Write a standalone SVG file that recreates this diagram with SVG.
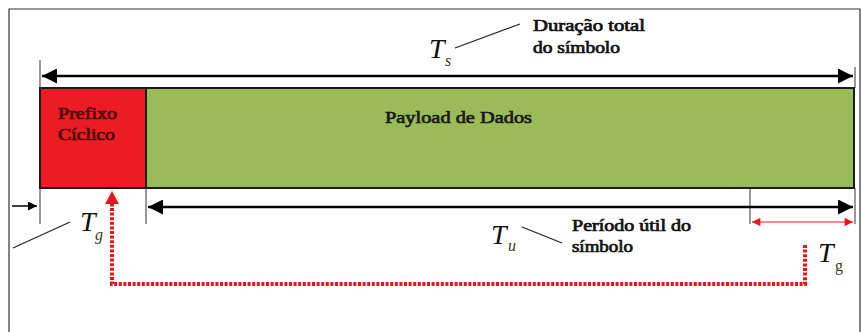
<svg xmlns="http://www.w3.org/2000/svg" width="862" height="332" viewBox="0 0 862 332">
<defs>
<style>
.lbl{font-family:"Liberation Serif","Times New Roman",serif;font-size:16px;fill:#111;stroke:#111;stroke-width:0.7}
.blk{font-family:"Liberation Serif","Times New Roman",serif;font-size:17px;fill:#1a1a1a;stroke:#1a1a1a;stroke-width:0.7}
.pre{font-family:"Liberation Serif","Times New Roman",serif;font-size:16px;fill:#4a0a0a;stroke:#4a0a0a;stroke-width:0.7}
.sym{font-family:"Liberation Serif","Times New Roman",serif;font-style:italic;font-size:28px;fill:#111}
.sub{font-family:"Liberation Serif","Times New Roman",serif;font-style:italic;font-size:16px;fill:#3a3a1a}
.dim{stroke:#000;stroke-width:2.5;fill:none}
.tick{stroke:#333;stroke-width:1;fill:none}
.lead{stroke:#222;stroke-width:1.2;fill:none}
</style>
<marker id="ah" viewBox="0 0 10 10" refX="10" refY="5" markerWidth="8" markerHeight="6" markerUnits="strokeWidth" orient="auto-start-reverse"><path d="M0,0 L10,5 L0,10 z" fill="#000"/></marker>
<marker id="ahs" viewBox="0 0 10 10" refX="10" refY="5" markerWidth="8" markerHeight="6" markerUnits="strokeWidth" orient="auto"><path d="M0,0 L10,5 L0,10 z" fill="#000"/></marker>
<marker id="ahr" viewBox="0 0 10 10" refX="10" refY="5" markerWidth="13" markerHeight="7" markerUnits="strokeWidth" orient="auto-start-reverse"><path d="M0,0 L10,5 L0,10 z" fill="#e8161c"/></marker>
</defs>
<rect x="0" y="0" width="862" height="332" fill="#fff"/>
<path d="M9,332 L9,9 L860,9 L860,332" fill="none" stroke="#333" stroke-width="1.2"/>

<g id="prefixo">
<rect x="40" y="88" width="106" height="100" fill="#ed1c24" stroke="#1a1a1a" stroke-width="2"/>
<text class="pre" x="58" y="119" textLength="59" lengthAdjust="spacingAndGlyphs">Prefixo</text>
<text class="pre" x="58" y="140" textLength="57" lengthAdjust="spacingAndGlyphs">Cíclico</text>
</g>
<g id="payload">
<rect x="146" y="88" width="708" height="100" fill="#9bbb59" stroke="#1a1a1a" stroke-width="2"/>
<text class="blk" x="385" y="123" textLength="147" lengthAdjust="spacingAndGlyphs">Payload de Dados</text>
</g>

<g id="connectors">
<line class="tick" x1="40" y1="60" x2="40" y2="88"/>
<line class="tick" x1="855" y1="67" x2="855" y2="88"/>
<line class="dim" x1="42" y1="76" x2="853" y2="76" marker-start="url(#ah)" marker-end="url(#ah)"/>
<line class="tick" x1="40" y1="188" x2="40" y2="224"/>
<line class="tick" x1="146" y1="188" x2="146" y2="224"/>
<line class="tick" x1="750" y1="188" x2="750" y2="224"/>
<line class="tick" x1="855" y1="188" x2="855" y2="224"/>
<line class="dim" x1="148" y1="207" x2="853" y2="207" marker-start="url(#ah)" marker-end="url(#ah)"/>
<line x1="12" y1="206" x2="37" y2="206" stroke="#000" stroke-width="1.5" marker-end="url(#ahs)"/>
<line x1="752" y1="222" x2="853" y2="222" stroke="#e8161c" stroke-width="1.2" marker-start="url(#ahr)" marker-end="url(#ahr)"/>
<path d="M805,245 L805,284 L112,284 L112,203" fill="none" stroke="#e8161c" stroke-width="4" stroke-dasharray="3,1.6"/>
<polygon points="112,191 105,204 119,204" fill="#e8161c"/>
<line class="lead" x1="455" y1="48" x2="520" y2="24"/>
<line class="lead" x1="522" y1="227" x2="562" y2="243"/>
<line class="lead" x1="13" y1="248" x2="70" y2="222"/>
</g>

<g id="ts">
<text class="sym" x="429" y="58">T</text><text class="sub" x="445" y="66">s</text>
<text class="lbl" x="533" y="31" textLength="112" lengthAdjust="spacingAndGlyphs">Duração total</text>
<text class="lbl" x="533" y="53" textLength="87" lengthAdjust="spacingAndGlyphs">do símbolo</text>
</g>
<g id="tu">
<text class="sym" x="491" y="244">T</text><text class="sub" x="508" y="251">u</text>
<text class="lbl" x="572" y="231" textLength="119" lengthAdjust="spacingAndGlyphs">Período útil do</text>
<text class="lbl" x="572" y="252" textLength="61" lengthAdjust="spacingAndGlyphs">símbolo</text>
</g>
<g id="tg-left">
<text class="sym" x="80" y="231">T</text><text class="sub" x="95" y="240">g</text>
</g>
<g id="tg-right">
<text class="sym" x="818" y="262">T</text><text class="sub" x="835" y="271" style="font-style:normal">g</text>
</g>
</svg>
